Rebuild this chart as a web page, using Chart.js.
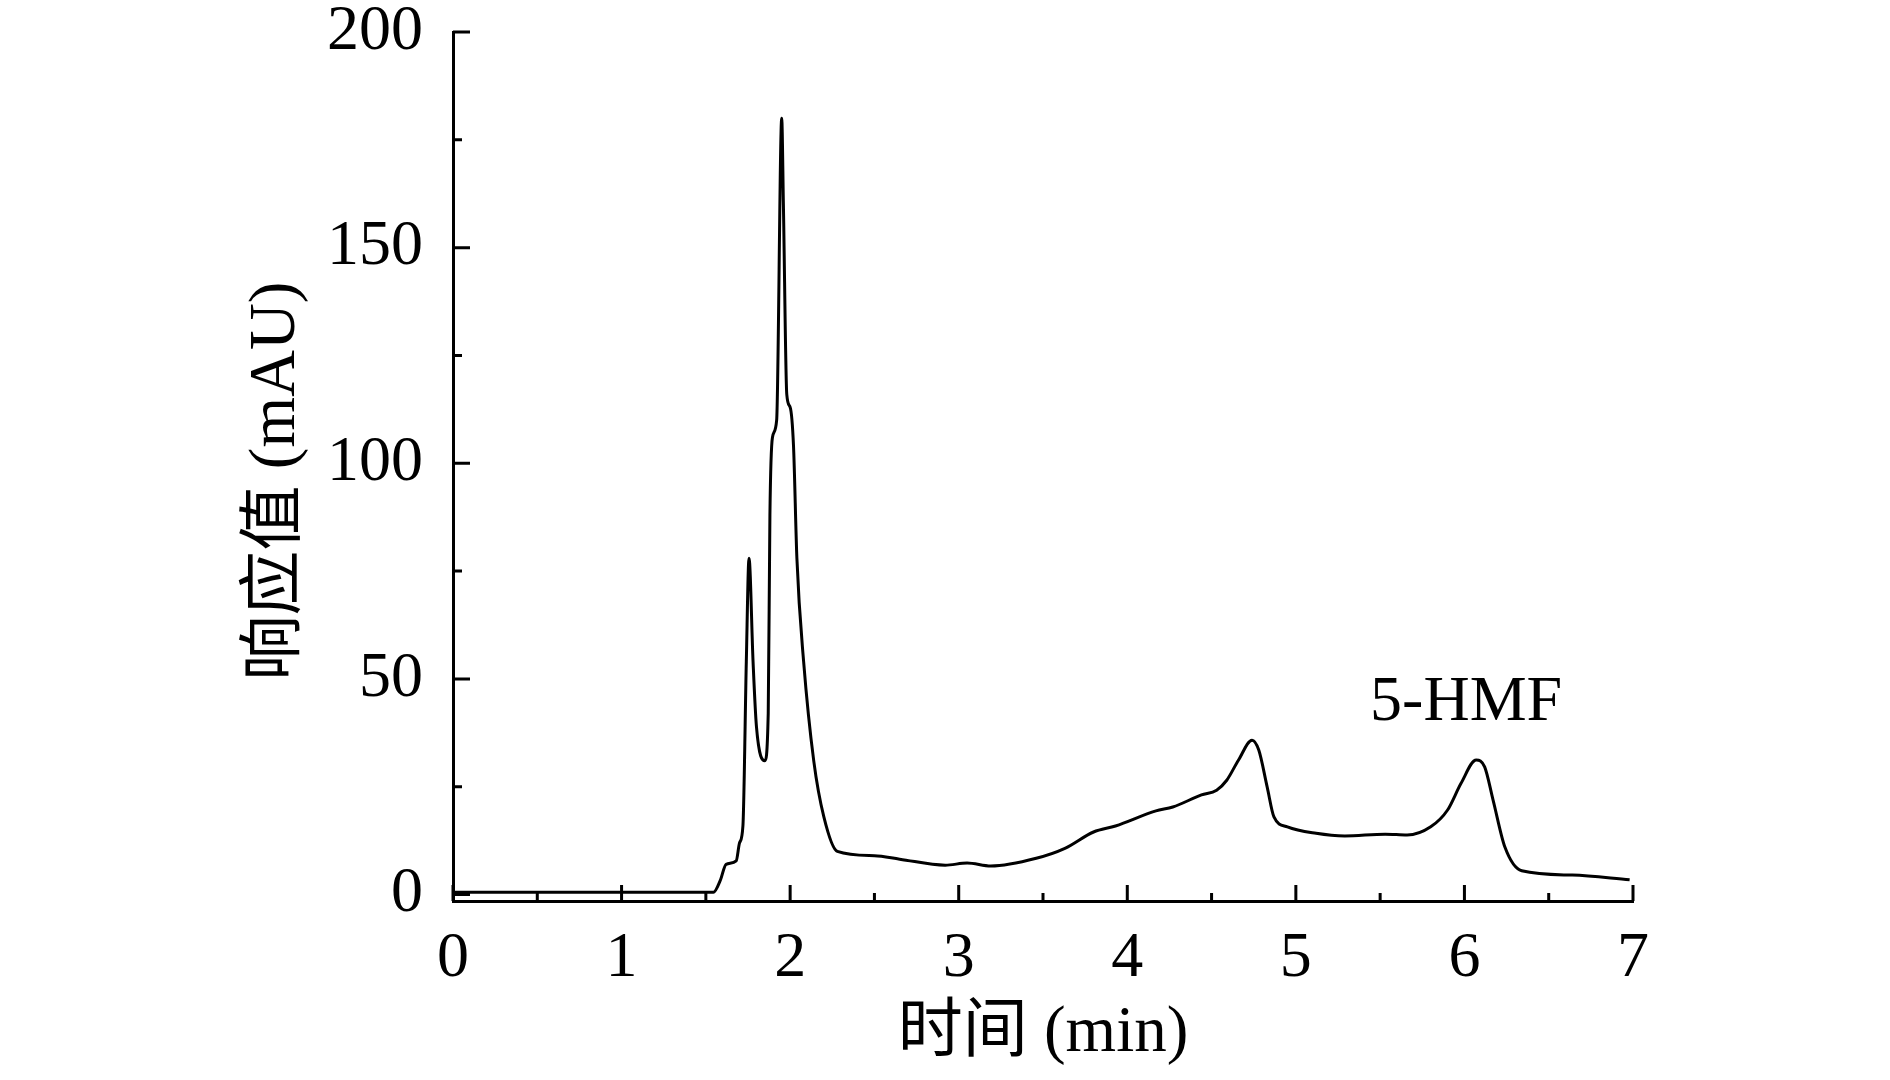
<!DOCTYPE html>
<html>
<head>
<meta charset="utf-8">
<script src="https://cdn.jsdelivr.net/npm/chart.js@4.4.1/dist/chart.umd.min.js"></script>
<style>
    html, body { margin: 0; padding: 0; background: #ffffff; }
    #chromato { display: block; }
</style>
</head>
<body>
<canvas id="chromato" width="1890" height="1080"></canvas>
<script>
const timeMin = [0, 0.5, 1.0, 1.5, 1.545, 1.585, 1.62, 1.68, 1.70, 1.72, 1.74, 1.756, 1.78, 1.80, 1.85, 1.87, 1.88, 1.895, 1.92, 1.95, 1.96, 1.98, 2.00, 2.02, 2.04, 2.08, 2.14, 2.20, 2.28, 2.50, 2.65, 2.92, 3.05, 3.19, 3.46, 3.63, 3.80, 3.93, 4.17, 4.27, 4.44, 4.53, 4.59, 4.66, 4.74, 4.78, 4.83, 4.87, 4.95, 5.12, 5.29, 5.53, 5.66, 5.80, 5.90, 5.98, 6.07, 6.12, 6.17, 6.24, 6.34, 6.64, 6.98];
const response = [0.5, 0.5, 0.5, 0.5, 0.5, 3.2, 7.0, 7.8, 12, 16, 54, 78, 54, 39, 31, 42, 88, 106, 110, 180, 160, 116, 113, 104, 78, 54, 31, 18, 10, 9, 8.2, 6.8, 7.3, 6.6, 8.4, 10.7, 14.5, 15.9, 19.4, 20.3, 23.1, 24.2, 26.5, 31.2, 35.8, 33.5, 24.9, 18, 15.7, 14.2, 13.6, 14, 13.8, 15.7, 19.6, 25.8, 31.2, 29.6, 21.9, 11, 5.5, 4.5, 3.4];

// graduations
const xTicks = [0, 1, 2, 3, 4, 5, 6, 7];
const xMinorTicks = [0.5, 1.5, 2.5, 3.5, 4.5, 5.5, 6.5];
const yTicks = [0, 50, 100, 150, 200];
const yMinorTicks = [25, 75, 125, 175];

const xTitle = "时间 (min)";
const yTitle = "响应值 (mAU)";
const peakLabel = { text: "5-HMF", x: 6.01, y: 44.4 };

const fontFamily = "'Liberation Serif', 'Noto Sans CJK SC', serif";

var points = timeMin.map((t, i) => ({ x: t, y: response[i] }));

// petites graduations tournées vers l'intérieur + titres des axes
const axisDecor = {
    id: "axisDecor",
    afterDraw(chart) {
        const ctx = chart.ctx;
        const xs = chart.scales.x;
        const ys = chart.scales.y;
        const area = chart.chartArea;
        ctx.save();
        ctx.strokeStyle = "#000";
        ctx.lineWidth = 3;
        ctx.beginPath();
        xTicks.forEach((v) => {
            let px = xs.getPixelForValue(v);
            ctx.moveTo(px, area.bottom);
            ctx.lineTo(px, area.bottom - 16);
        });
        xMinorTicks.forEach((v) => {
            let px = xs.getPixelForValue(v);
            ctx.moveTo(px, area.bottom);
            ctx.lineTo(px, area.bottom - 8);
        });
        yTicks.forEach((v) => {
            let py = ys.getPixelForValue(v);
            ctx.moveTo(area.left, py);
            ctx.lineTo(area.left + 17, py);
        });
        yMinorTicks.forEach((v) => {
            let py = ys.getPixelForValue(v);
            ctx.moveTo(area.left, py);
            ctx.lineTo(area.left + 9, py);
        });
        ctx.stroke();

        ctx.fillStyle = "#000";
        ctx.font = "65px " + fontFamily;
        ctx.textAlign = "center";
        ctx.textBaseline = "middle";
        ctx.fillText(xTitle, (area.left + area.right) / 2, 1034);

        ctx.save();
        ctx.translate(277, 481);
        ctx.rotate(-Math.PI / 2);
        ctx.fillText(yTitle, 0, 0);
        ctx.restore();

        ctx.font = "64px " + fontFamily;
        ctx.fillText(peakLabel.text, xs.getPixelForValue(peakLabel.x), ys.getPixelForValue(peakLabel.y));
        ctx.restore();
    },
};

new Chart(document.getElementById("chromato"), {
    type: "line",
    data: {
        datasets: [
            {
                data: points,
                borderColor: "#000000",
                borderWidth: 3,
                pointRadius: 0,
                fill: false,
                cubicInterpolationMode: "monotone",
            },
        ],
    },
    options: {
        responsive: false,
        animation: false,
        layout: {
            autoPadding: false,
            padding: { left: 0, top: 32, right: 257, bottom: 0 },
        },
        plugins: {
            legend: { display: false },
            tooltip: { enabled: false },
        },
        scales: {
            x: {
                type: "linear",
                min: 0,
                max: 7,
                grid: { display: false, drawTicks: false },
                border: { display: true, color: "#000", width: 3 },
                afterBuildTicks: (scale) => {
                    scale.ticks = xTicks.map((v) => ({ value: v }));
                },
                afterFit: (scale) => {
                    scale.height = 179;
                    scale.paddingLeft = 0;
                    scale.paddingRight = 0;
                },
                ticks: {
                    autoSkip: false,
                    maxRotation: 0,
                    padding: 20,
                    color: "#000",
                    font: { family: fontFamily, size: 64 },
                },
            },
            y: {
                type: "linear",
                min: -1.5,
                max: 200,
                grid: { display: false, drawTicks: false },
                border: { display: true, color: "#000", width: 3 },
                afterBuildTicks: (scale) => {
                    scale.ticks = yTicks.map((v) => ({ value: v }));
                },
                afterFit: (scale) => {
                    scale.width = 453;
                    scale.paddingTop = 0;
                    scale.paddingBottom = 0;
                },
                ticks: {
                    padding: 30,
                    color: "#000",
                    font: { family: fontFamily, size: 64 },
                },
            },
        },
    },
    plugins: [axisDecor],
});
</script>
</body>
</html>
